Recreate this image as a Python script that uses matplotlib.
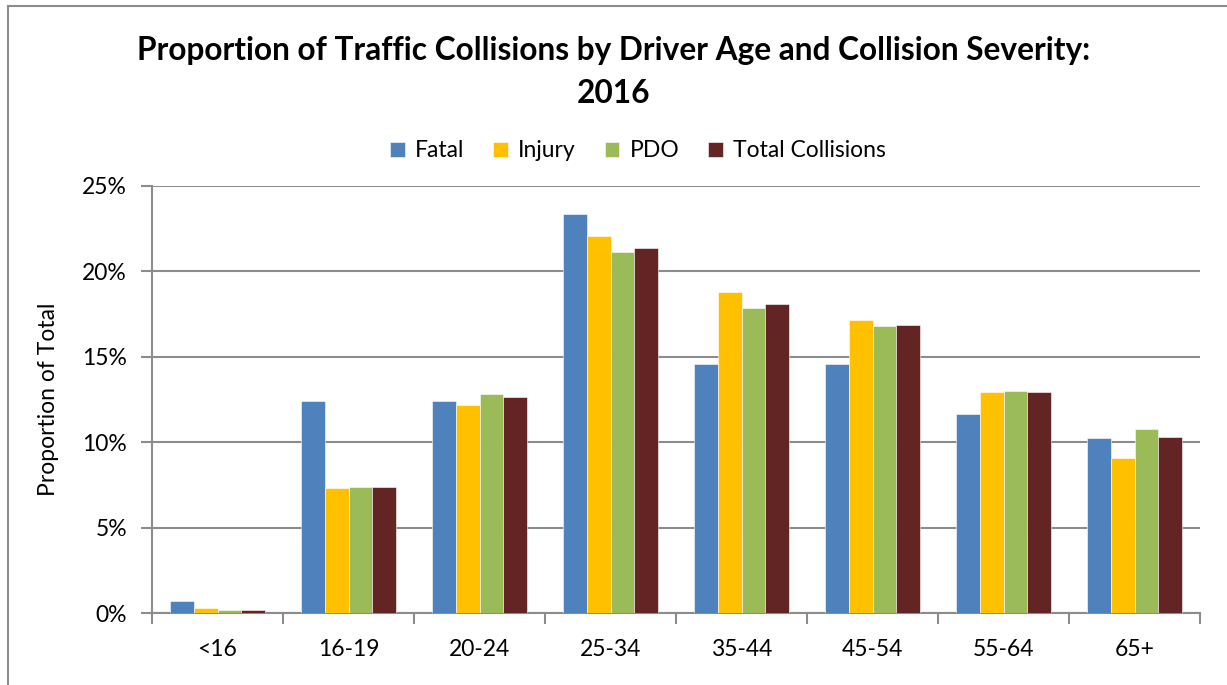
import matplotlib.pyplot as plt
from matplotlib.patches import Rectangle
import numpy as np

plt.rcParams['font.family'] = ['Lato', 'DejaVu Sans']

ages = ['<16', '16-19', '20-24', '25-34', '35-44', '45-54', '55-64', '65+']
fatal = [0.70, 12.39, 12.39, 23.34, 14.56, 14.56, 11.63, 10.23]
injury = [0.29, 7.34, 12.16, 22.05, 18.79, 17.15, 12.92, 9.09]
pdo = [0.16, 7.35, 12.82, 21.15, 17.86, 16.78, 12.98, 10.75]
total = [0.18, 7.35, 12.63, 21.39, 18.11, 16.86, 12.95, 10.30]
series = ['Fatal', 'Injury', 'PDO', 'Total Collisions']
colors = ['#4F81BD', '#FFC000', '#9BBB59', '#632523']
y_ticks = [0, 5, 10, 15, 20, 25]

fig = plt.figure(figsize=(12.27, 6.85), dpi=100)
ax = fig.add_axes([0.1239, 0.1051, 0.8541, 0.6234])

x = np.arange(len(ages))
w = 1 / 5.5  # gap width 150%
for i, (vals, c) in enumerate(zip([fatal, injury, pdo, total], colors)):
    ax.bar(x + (i - 1.5) * w, vals, w, color=c, label=series[i], zorder=3,
           edgecolor='white', linewidth=0.4)

grid_c = '#8c8c8c'
ax.set_ylim(0, 25)
ax.set_xlim(-0.5, len(ages) - 0.5)
ax.set_yticks(y_ticks)
ax.set_yticklabels([f'{t}%' for t in y_ticks])
ax.yaxis.grid(True, color=grid_c, linewidth=1.5, zorder=0)
ax.set_axisbelow(True)

ax.set_xticks(x)
ax.set_xticklabels(ages)
ax.set_xticks(np.arange(len(ages) + 1) - 0.5, minor=True)
ax.tick_params(axis='x', which='major', length=0, pad=19, labelsize=16.5)
ax.tick_params(axis='x', which='minor', length=8, width=1.5, color=grid_c)
ax.tick_params(axis='y', length=8, width=1.5, color=grid_c, labelsize=16.5, pad=10)

for s in ['top', 'right']:
    ax.spines[s].set_visible(False)
for s in ['left', 'bottom']:
    ax.spines[s].set_color(grid_c)
    ax.spines[s].set_linewidth(1.5)

ax.set_ylabel('Proportion of Total', fontsize=16.5, labelpad=17)

fig.text(0.5, 1 - 60 / 685, 'Proportion of Traffic Collisions by Driver Age and Collision Severity:',
         ha='center', va='baseline', fontsize=22.8, fontweight='bold')
fig.text(0.5, 1 - 103 / 685, '2016',
         ha='center', va='baseline', fontsize=22.8, fontweight='bold')

fig.legend(loc='center', bbox_to_anchor=(0.520, 0.780), ncol=4, frameon=False,
           fontsize=16.5, handlelength=0.65, handleheight=0.65, handletextpad=0.45,
           columnspacing=1.25)

# chart area outline
fig.patches.append(Rectangle((7.5 / 1227, -0.05), 1.1, 1 - 6 / 685 + 0.05,
                             transform=fig.transFigure, fill=False,
                             edgecolor='#8c8c8c', linewidth=1.5))

fig.savefig('out.png', dpi=100)
